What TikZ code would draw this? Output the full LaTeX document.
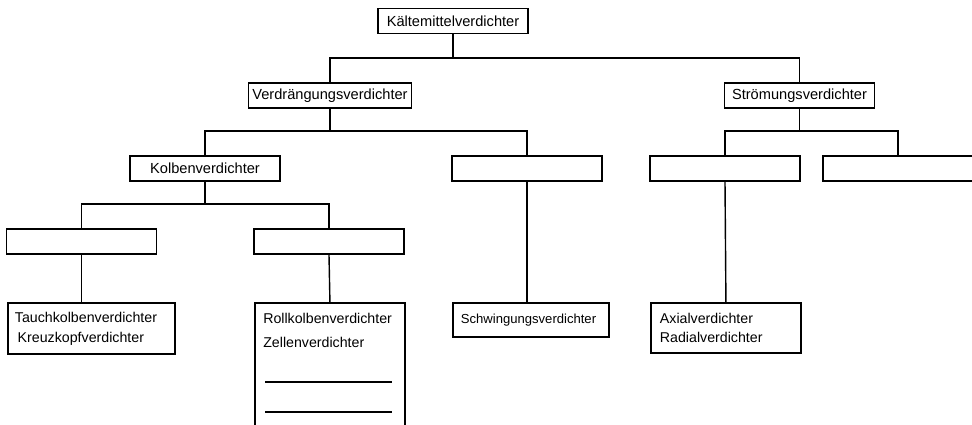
\documentclass[tikz,border=0pt]{standalone}
\usepackage{fontspec}
\setmainfont{Liberation Sans}
\tikzset{
    box/.style={draw, line width=1.3pt, minimum width=3.75cm, minimum height=0.625cm, inner sep=0pt,
                font=\fontsize{10.4}{14.2}\selectfont},
    listbox/.style={box, anchor=north west, align=left, font=\fontsize{10.1}{14.2}\selectfont},
    conn/.style={line width=1pt},
}
\begin{document}
\begin{tikzpicture}[x=0.025cm,y=-0.025cm]
        \useasboundingbox (0,0) rectangle (972,424);

        % top levels
        \node[box] (kmv) at (453,21) {Kältemittelverdichter};
        \node[box, minimum width=4.075cm] (verd) at (330,95.5) {Verdrängungsverdichter};
        \node[box] (stroem) at (799.5,95.5) {Strömungsverdichter};
        \node[box] (kolben) at (205,168.5) {Kolbenverdichter};
        \node[box] (mid) at (527,168.5) {};
        \node[box] (axleer) at (725,168.5) {};
        \node[box] (rechts) at (898,168.5) {};
        \node[box] (kleer) at (81.5,241.5) {};
        \node[box] (rleer) at (329,241.5) {};

        % bottom boxes
        \node[listbox, minimum width=4.175cm, minimum height=1.275cm, inner xsep=0.175cm, text width=3.825cm]
            (tauch) at (7,302) {Tauchkolbenverdichter\\\hspace{2pt}Kreuzkopfverdichter};
        \node[box, anchor=north west, minimum height=3.25cm] (roll) at (254,302) {};
        \node[anchor=north west, align=left, inner sep=0pt, font=\fontsize{10.1}{14.2}\selectfont]
            (rolltext) at ([shift={(9,11)}]roll.north west) {Rollkolbenverdichter\\[2.8pt]Zellenverdichter};
        \draw[conn] ([shift={(11,80)}]roll.north west) -- ([shift={(138,80)}]roll.north west);
        \draw[conn] ([shift={(11,110)}]roll.north west) -- ([shift={(138,110)}]roll.north west);
        \node[listbox, minimum width=3.9cm, minimum height=0.85cm, inner xsep=0.2cm, text width=3.5cm,
              font=\fontsize{9.3}{12}\selectfont]
            (schw) at (452,302) {Schwingungsverdichter};
        \node[listbox, minimum height=1.25cm, inner xsep=0.225cm, text width=3.3cm,
              font=\fontsize{10.1}{13.5}\selectfont]
            (axial) at (650,302) {Axialverdichter\\Radialverdichter};

        % connectors
        \coordinate (b1) at (453,58);
        \coordinate (b2) at (330,131);
        \coordinate (b3) at (799.5,131);
        \coordinate (b4) at (205,204);
        \draw[conn] (kmv.south) -- (b1);
        \draw[conn] (verd.north) |- (b1) -| (stroem.north);
        \draw[conn] (verd.south) -- (b2);
        \draw[conn] (kolben.north) |- (b2) -| (mid.north);
        \draw[conn] (stroem.south) -- (b3);
        \draw[conn] (axleer.north) |- (b3) -| (rechts.north);
        \draw[conn] (kolben.south) -- (b4);
        \draw[conn] (kleer.north) |- (b4) -| (rleer.north);
        \draw[conn] (kleer.south) -- (kleer.south |- tauch.north);
        \draw[conn] (rleer.south) -- (roll.north);
        \draw[conn] (mid.south) -- (mid.south |- schw.north);
        \draw[conn] (axleer.south) -- (axial.north);
    \end{tikzpicture}
\end{document}
